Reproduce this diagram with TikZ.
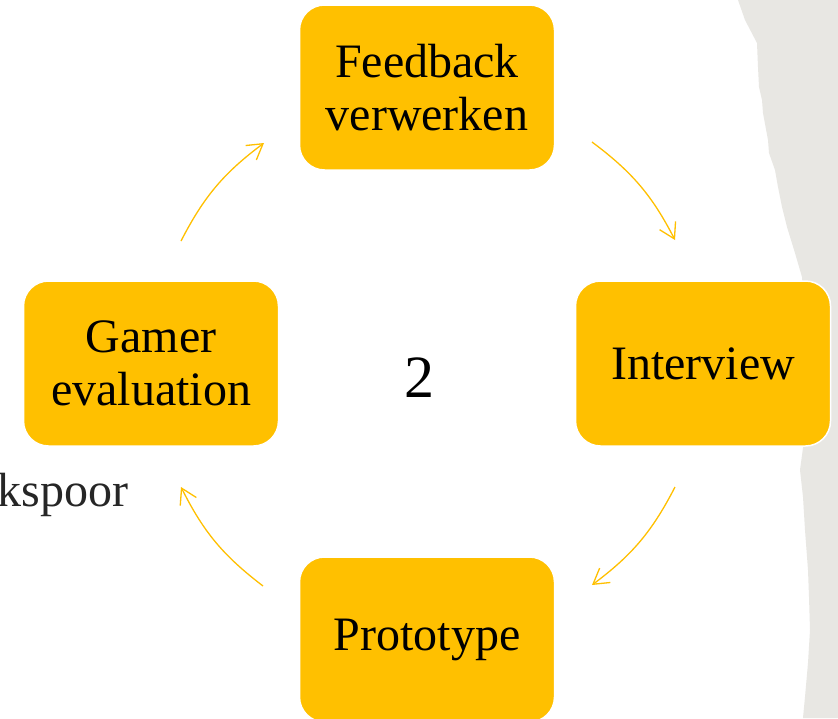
\documentclass[tikz,border=0pt]{standalone}
\usepackage{fontspec}
\setmainfont{Liberation Serif}
\usetikzlibrary{%
  positioning
 ,arrows.meta
}
\definecolor{gold}{HTML}{FFC000}
\definecolor{paper}{HTML}{E8E7E3}
\definecolor{ink}{HTML}{262626}
\tikzstyle{cyc}=[x=1pt,y=-1pt,node distance=276pt,on grid]
\tikzstyle{stap}=[rectangle,rounded corners=25pt,fill=gold,draw=white,line width=1.5pt,minimum width=255pt,minimum height=165pt,align=center,inner sep=0pt,font=\fontsize{48}{53}\selectfont]
\tikzstyle{pijl}=[draw=gold,line width=1.3pt,-{Straight Barb[length=15pt,width=18pt]}]

\begin{document}
\begin{tikzpicture}[cyc]
  \useasboundingbox (0,0) rectangle (838,718);
  \clip (0,0) rectangle (838,718);
  \fill[white] (0,0) rectangle (838,718);
  % torn paper edge
  \fill[paper] (738,0) -- (745,20) -- (757,43) -- (758,67) -- (759,87) -- (762,100)
    -- (763,113) -- (768,140) -- (769,153) -- (775,170) -- (778,187) -- (782,207)
    -- (787,227) -- (795,253) -- (802,277) -- (803,290) -- (803,448) -- (800,470)
    -- (803,497) -- (805,530) -- (808,570) -- (809,597) -- (810,630) -- (808,663)
    -- (805,697) -- (803,718) -- (838,718) -- (838,0) -- cycle;
  \node[anchor=base east,text=ink,font=\fontsize{48}{53}\selectfont] (spoor) at (132,506) {kspoor};
% 
  \node[stap] (fb)  at (427,87.5)          {Feedback\\verwerken};
  \node[stap] (iv)  [below right=276pt and 276pt of fb] {Interview};
  \node[stap] (ge)  [below left=276pt and 276pt of fb]  {Gamer\\evaluation};
  \node[stap] (pt)  [below=552pt of fb]    {Prototype};
  \node[font=\fontsize{60}{60}\selectfont] (nr) at (419,378) {2};
% 
  \coordinate (a1) at (181,241);
  \coordinate (a2) at (264,143);
  \coordinate (b1) at (592,142);
  \coordinate (b2) at (675,240);
  \coordinate (c1) at (675,487);
  \coordinate (c2) at (592,585);
  \coordinate (d1) at (263,586);
  \coordinate (d2) at (181,487);
  \draw[pijl] (a1) to[bend left=13] (a2);
  \draw[pijl] (b1) to[bend left=13] (b2);
  \draw[pijl] (c1) to[bend left=13] (c2);
  \draw[pijl] (d1) to[bend left=13] (d2);
\end{tikzpicture}
\end{document}
